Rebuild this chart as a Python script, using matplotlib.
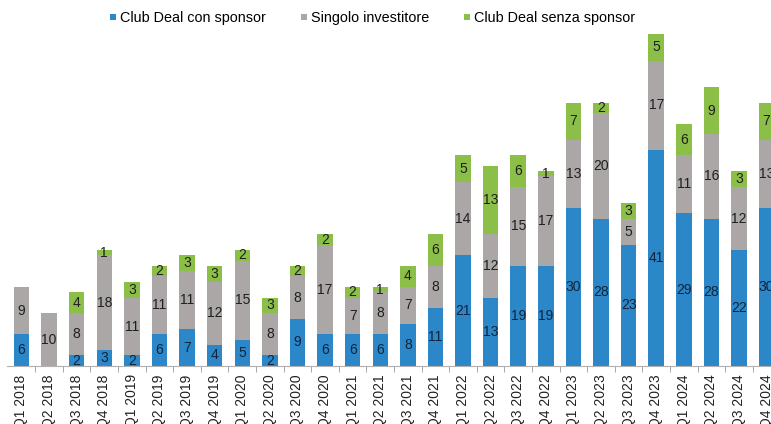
import numpy as np
import matplotlib
matplotlib.use("Agg")
import matplotlib.pyplot as plt
from matplotlib.lines import Line2D

plt.rcParams["font.family"] = ["Liberation Sans", "DejaVu Sans"]

quarters = ["Q1 2018", "Q2 2018", "Q3 2018", "Q4 2018",
            "Q1 2019", "Q2 2019", "Q3 2019", "Q4 2019",
            "Q1 2020", "Q2 2020", "Q3 2020", "Q4 2020",
            "Q1 2021", "Q2 2021", "Q3 2021", "Q4 2021",
            "Q1 2022", "Q2 2022", "Q3 2022", "Q4 2022",
            "Q1 2023", "Q2 2023", "Q3 2023", "Q4 2023",
            "Q1 2024", "Q2 2024", "Q3 2024", "Q4 2024"]

club_sponsor = [6, 0, 2, 3, 2, 6, 7, 4, 5, 2, 9, 6, 6, 6, 8, 11,
                21, 13, 19, 19, 30, 28, 23, 41, 29, 28, 22, 30]
singolo = [9, 10, 8, 18, 11, 11, 11, 12, 15, 8, 8, 17, 7, 8, 7, 8,
           14, 12, 15, 17, 13, 20, 5, 17, 11, 16, 12, 13]
club_no_sponsor = [0, 0, 4, 1, 3, 2, 3, 3, 2, 3, 2, 2, 2, 1, 4, 6,
                   5, 13, 6, 1, 7, 2, 3, 5, 6, 9, 3, 7]

series = [("Club Deal con sponsor", club_sponsor, "#2b87c8"),
          ("Singolo investitore", singolo, "#aaa7a6"),
          ("Club Deal senza sponsor", club_no_sponsor, "#8cbf47")]

fig = plt.figure(figsize=(7.71, 4.24), dpi=100)
ax = fig.add_axes([7 / 771, 58 / 424, 1 - 7 / 771, 336 / 424])

x = np.arange(len(quarters))
bottom = np.zeros(len(quarters))
handles = []
for name, vals, col in series:
    vals = np.array(vals, dtype=float)
    ax.bar(x, vals, 0.56, bottom=bottom, color=col, linewidth=0)
    for xi, v, b in zip(x, vals, bottom):
        if v > 0:
            ax.text(xi, b + v / 2, f"{int(v)}", ha="center", va="center",
                    fontsize=10, color="#1f1f1f" if col != "#2b87c8" else "#10243a")
    bottom += vals
    handles.append(Line2D([], [], marker="s", linestyle="none", markersize=5,
                          markerfacecolor=col, markeredgewidth=0, label=name))

ax.set_xlim(-0.525, 27.16)
ax.set_ylim(0, 63.8)
ax.set_xticks(x)
ax.set_xticklabels(quarters, rotation=90, fontsize=10, color="#222222")
ax.set_xticks(x[:-1] + 0.5, minor=True)
ax.tick_params(axis="x", which="major", length=0, pad=6)
ax.tick_params(axis="x", which="minor", length=4, color="#999999")
ax.set_yticks([])
for s in ["top", "right", "left"]:
    ax.spines[s].set_visible(False)
ax.spines["bottom"].set_color("#b0b0b0")
ax.spines["bottom"].set_linewidth(0.8)

fig.legend(handles=handles, loc="center", bbox_to_anchor=(371 / 771, 1 - 18 / 424),
           ncol=3, frameon=False, fontsize=10.4, handletextpad=0.1,
           columnspacing=2.2, handlelength=0.8)

fig.savefig("out.png", dpi=100)
